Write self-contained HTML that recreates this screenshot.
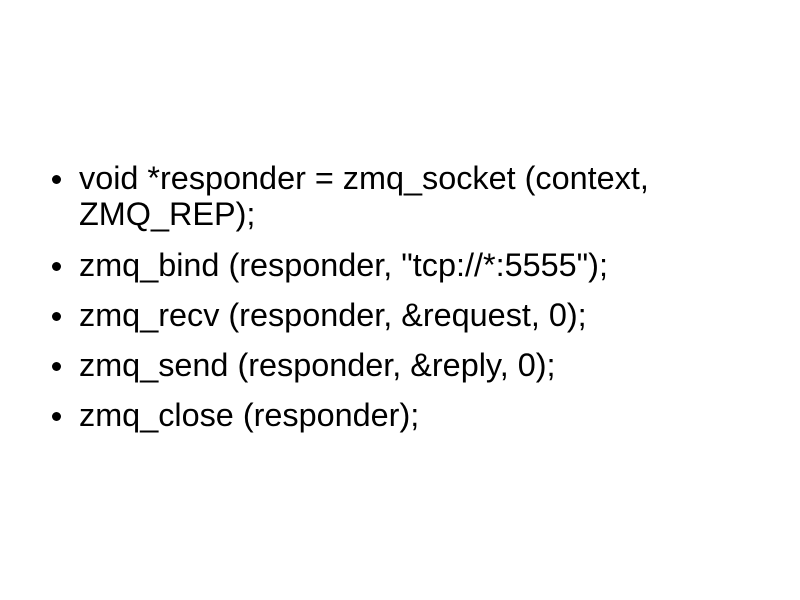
<!DOCTYPE html>
<html><head><style>
html,body{margin:0;padding:0;background:#fff;width:800px;height:600px;overflow:hidden}
.t{position:absolute;left:79px;font-family:"Liberation Sans",sans-serif;font-size:32.4px;color:#000;line-height:34px;white-space:nowrap}
.b{position:absolute;left:52px;width:9px;height:9px;border-radius:50%;background:#000}
</style></head><body>
<div class="b" style="top:175px"></div>
<div class="t" style="top:161px">void *responder = zmq_socket (context,</div>
<div class="t" style="top:197px">ZMQ_REP);</div>
<div class="b" style="top:262px"></div>
<div class="t" style="top:248px">zmq_bind (responder, "tcp://*:5555");</div>
<div class="b" style="top:312px"></div>
<div class="t" style="top:298px">zmq_recv (responder, &amp;request, 0);</div>
<div class="b" style="top:362px"></div>
<div class="t" style="top:348px">zmq_send (responder, &amp;reply, 0);</div>
<div class="b" style="top:412px"></div>
<div class="t" style="top:398px">zmq_close (responder);</div>
</body></html>
